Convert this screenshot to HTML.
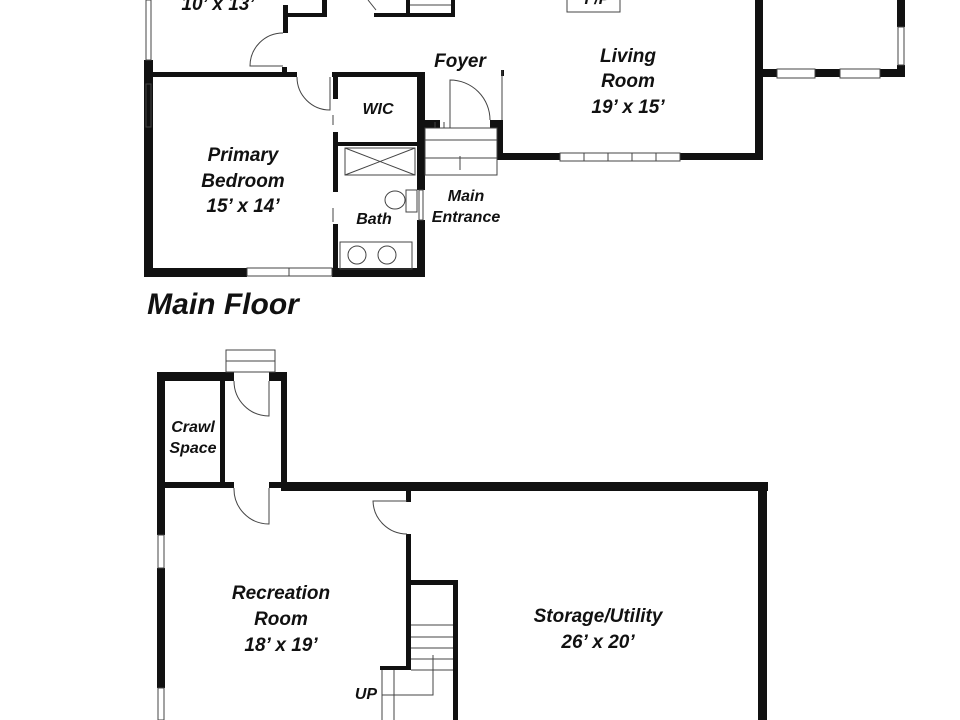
<!DOCTYPE html>
<html><head><style>
html,body{margin:0;padding:0;background:#fff;}
svg{display:block}
text{font-family:"Liberation Sans",sans-serif;font-weight:bold;font-style:italic;fill:#111;text-anchor:middle}
</style></head><body>
<svg width="960" height="720" viewBox="0 0 960 720">
<g fill="#111">
<rect x="144" y="60" width="9" height="217"/>
<rect x="144" y="72" width="153" height="5"/>
<rect x="144" y="268" width="103" height="9"/>
<rect x="332" y="268" width="93" height="9"/>
<rect x="417" y="72" width="8" height="118"/>
<rect x="417" y="220" width="8" height="57"/>
<rect x="332" y="72" width="93" height="5"/>
<rect x="333" y="77" width="5" height="22"/>
<rect x="333" y="132" width="5" height="60"/>
<rect x="333" y="224" width="5" height="46"/>
<rect x="338" y="142" width="80" height="4"/>
<rect x="283" y="5" width="5" height="28"/>
<rect x="282" y="67" width="5" height="8"/>
<rect x="283" y="13" width="44" height="4"/>
<rect x="322" y="0" width="5" height="17"/>
<rect x="374" y="13" width="81" height="4"/>
<rect x="406" y="0" width="4" height="17"/>
<rect x="451" y="0" width="4" height="17"/>
<rect x="417" y="120" width="23" height="8"/>
<rect x="490" y="120" width="13" height="8"/>
<rect x="497" y="120" width="6" height="40"/>
<rect x="497" y="153" width="63" height="7"/>
<rect x="680" y="153" width="83" height="7"/>
<rect x="755" y="0" width="8" height="160"/>
<rect x="763" y="69" width="14" height="8"/>
<rect x="815" y="69" width="25" height="8"/>
<rect x="880" y="69" width="25" height="8"/>
<rect x="897" y="0" width="8" height="27"/>
<rect x="897" y="65" width="8" height="12"/>
<rect x="501" y="70" width="3" height="6"/>
</g>
<g fill="none" stroke="#444" stroke-width="1">
<rect x="146" y="0" width="5" height="60"/>
<rect x="146" y="84" width="5" height="43"/>
<rect x="247" y="268" width="85" height="8"/><line x1="289" y1="268" x2="289" y2="276"/>
<rect x="419" y="190" width="4" height="30"/>
<rect x="560" y="153" width="120" height="8"/>
<line x1="584" y1="153" x2="584" y2="161"/><line x1="608" y1="153" x2="608" y2="161"/><line x1="632" y1="153" x2="632" y2="161"/><line x1="656" y1="153" x2="656" y2="161"/>
<rect x="777" y="69" width="38" height="9"/>
<rect x="840" y="69" width="40" height="9"/>
<rect x="898" y="27" width="6" height="38"/>
<line x1="502" y1="70" x2="502" y2="120"/>
<rect x="567" y="-2" width="53" height="14"/>
<path d="M283 33 A33 33 0 0 0 250 66 L283 66"/>
<path d="M297 77 A33 33 0 0 0 330 110 L330 77"/>
<path d="M450 128 L450 80 A40 40 0 0 1 490 120"/>
<line x1="333" y1="115" x2="333" y2="125"/><line x1="333" y1="208" x2="333" y2="222"/>
<rect x="425" y="128" width="72" height="47"/>
<line x1="425" y1="140" x2="497" y2="140"/><line x1="425" y1="158" x2="497" y2="158"/>
<line x1="460" y1="156" x2="460" y2="170"/>
<line x1="435" y1="122" x2="435" y2="128"/><line x1="444" y1="122" x2="444" y2="128"/>
<rect x="345" y="148" width="70" height="27"/>
<line x1="345" y1="148" x2="415" y2="175"/><line x1="415" y1="148" x2="345" y2="175"/>
<ellipse cx="395" cy="200" rx="10" ry="9"/>
<rect x="406" y="190" width="11" height="22"/>
<rect x="340" y="242" width="72" height="27"/>
<circle cx="357" cy="255" r="9"/><circle cx="387" cy="255" r="9"/>
<path d="M368 0 L376 10"/>
<line x1="410" y1="5" x2="451" y2="5"/>
</g>

<g fill="#111">
<rect x="157" y="372" width="8" height="163"/>
<rect x="157" y="568" width="8" height="120"/>
<rect x="157" y="372" width="77" height="9"/>
<rect x="269" y="372" width="18" height="9"/>
<rect x="281" y="372" width="6" height="119"/>
<rect x="220" y="381" width="5" height="106"/>
<rect x="165" y="482" width="69" height="6"/>
<rect x="269" y="482" width="15" height="6"/>
<rect x="283" y="482" width="485" height="9"/>
<rect x="758" y="482" width="9" height="238"/>
<rect x="406" y="491" width="5" height="11"/>
<rect x="406" y="534" width="5" height="136"/>
<rect x="406" y="580" width="52" height="5"/>
<rect x="453" y="580" width="5" height="140"/>
<rect x="380" y="666" width="30" height="4"/>
</g>
<g fill="none" stroke="#444" stroke-width="1">
<rect x="226" y="350" width="49" height="22"/><line x1="226" y1="361" x2="275" y2="361"/>
<path d="M269 381 L269 416 A35 35 0 0 1 234 381"/>
<path d="M269 488 L269 524 A35 35 0 0 1 234 488"/>
<path d="M407 501 L373 501 A34 34 0 0 0 407 534"/>
<rect x="158" y="535" width="6" height="33"/>
<rect x="158" y="688" width="6" height="32"/>
<line x1="411" y1="625" x2="453" y2="625"/><line x1="411" y1="637" x2="453" y2="637"/>
<line x1="411" y1="648" x2="453" y2="648"/><line x1="411" y1="659" x2="453" y2="659"/>
<line x1="411" y1="670" x2="453" y2="670"/>
<line x1="382" y1="670" x2="382" y2="720"/><line x1="394" y1="670" x2="394" y2="720"/>
<polyline points="433,655 433,695 382,695"/>
</g>

<g font-size="19">
<text x="218" y="10">10’ x 13’</text>
<text x="628" y="62">Living</text>
<text x="628" y="87">Room</text>
<text x="628" y="113">19’ x 15’</text>
<text x="243" y="161">Primary</text>
<text x="243" y="187">Bedroom</text>
<text x="243" y="212">15’ x 14’</text>
<text x="460" y="67">Foyer</text>
<text x="281" y="599">Recreation</text>
<text x="281" y="625">Room</text>
<text x="281" y="651">18’ x 19’</text>
<text x="598" y="622">Storage/Utility</text>
<text x="598" y="648">26’ x 20’</text>
</g>
<g font-size="16">
<text x="378" y="114">WIC</text>
<text x="374" y="224">Bath</text>
<text x="466" y="201">Main</text>
<text x="466" y="222">Entrance</text>
<text x="193" y="432">Crawl</text>
<text x="193" y="453">Space</text>
<text x="366" y="699">UP</text>
<text x="597" y="4">F/P</text>
</g>
<text x="223" y="314" font-size="30">Main Floor</text>
</svg>
</body></html>
